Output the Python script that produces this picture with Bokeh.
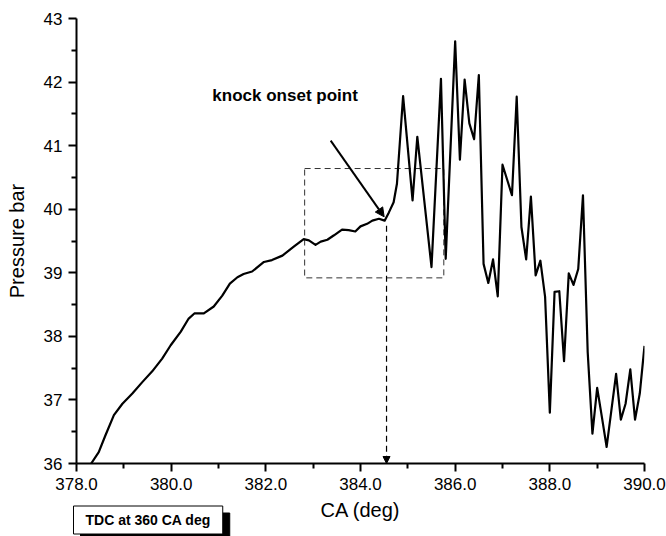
from bokeh.plotting import figure
from bokeh.models import (Range1d, FixedTicker, NumeralTickFormatter, Label, Arrow,
                          NormalHead, Title)
from bokeh.embed import file_html
from bokeh.resources import INLINE

# Crank angle (deg) and cylinder pressure (bar)
ca = [378.31, 378.47, 378.61, 378.79, 378.97, 379.18, 379.39, 379.60, 379.81, 379.99,
      380.20, 380.37, 380.49, 380.69, 380.90, 381.08, 381.24, 381.40, 381.53, 381.71,
      381.96, 382.13, 382.35, 382.59, 382.80, 382.91, 383.05, 383.16, 383.30, 383.44,
      383.61, 383.75, 383.89, 384.00, 384.14, 384.25, 384.39, 384.51, 384.60, 384.70,
      384.77, 384.90, 385.10, 385.20, 385.50, 385.70, 385.80, 386.00, 386.10, 386.20,
      386.30, 386.40, 386.50, 386.60, 386.70, 386.80, 386.90, 387.00, 387.20, 387.30,
      387.40, 387.50, 387.60, 387.70, 387.80, 387.90, 388.00, 388.10, 388.20, 388.30,
      388.40, 388.50, 388.60, 388.70, 388.80, 388.90, 389.00, 389.10, 389.20, 389.40,
      389.50, 389.60, 389.70, 389.80, 389.90, 390.00]
pressure = [36.00, 36.18, 36.44, 36.76, 36.94, 37.10, 37.28, 37.45, 37.65, 37.86,
            38.07, 38.28, 38.36, 38.36, 38.47, 38.64, 38.83, 38.93, 38.98, 39.02,
            39.17, 39.20, 39.27, 39.41, 39.53, 39.51, 39.44, 39.49, 39.52, 39.59,
            39.68, 39.67, 39.65, 39.73, 39.77, 39.82, 39.85, 39.82, 39.95, 40.11,
            40.40, 41.78, 40.14, 41.14, 39.09, 42.05, 39.22, 42.64, 40.78, 42.04,
            41.35, 41.10, 42.11, 39.14, 38.84, 39.21, 38.63, 40.70, 40.22, 41.77,
            39.72, 39.21, 40.20, 38.96, 39.19, 38.62, 36.80, 38.70, 38.71, 37.61,
            38.99, 38.81, 39.06, 40.22, 37.75, 36.47, 37.19, 36.73, 36.26, 37.41,
            36.69, 36.94, 37.48, 36.69, 37.10, 37.85]

x_major = [378, 380, 382, 384, 386, 388, 390]
x_minor = [379, 381, 383, 385, 387, 389]
y_major = [36, 37, 38, 39, 40, 41, 42, 43]
y_minor = [36.5, 37.5, 38.5, 39.5, 40.5, 41.5, 42.5]

# annotation geometry (data units)
zoom_box = dict(left=382.82, right=385.76, bottom=38.92, top=40.64)
onset_x = 384.55
onset_y_top = 39.74
arrow_start = (383.37, 41.08)
arrow_end = (384.50, 39.88)
onset_text = "knock onset point"
tdc_text = "TDC at 360 CA deg"
x_title = "CA (deg)"
y_title = "Pressure bar"

FONT = "Liberation Sans"

p = figure(width=666, height=536, output_backend="svg", toolbar_location=None,
           x_range=Range1d(378, 390), y_range=Range1d(36, 43),
           min_border_left=76, min_border_right=22, min_border_top=18,
           min_border_bottom=73)
p.outline_line_color = None
p.xgrid.visible = False
p.ygrid.visible = False
p.background_fill_color = "white"
p.border_fill_color = "white"

p.xaxis.ticker = FixedTicker(ticks=x_major, minor_ticks=x_minor)
p.yaxis.ticker = FixedTicker(ticks=y_major, minor_ticks=y_minor)
p.xaxis.formatter = NumeralTickFormatter(format="0.0")
p.yaxis.axis_label = y_title
for ax in (p.xaxis, p.yaxis):
    ax.axis_line_width = 2
    ax.axis_line_color = "black"
    ax.major_tick_out = 8
    ax.major_tick_in = 0
    ax.minor_tick_out = 5
    ax.minor_tick_in = 0
    ax.major_tick_line_width = 2
    ax.minor_tick_line_width = 2
    ax.major_tick_line_color = "black"
    ax.minor_tick_line_color = "black"
    ax.major_label_text_font = FONT
    ax.major_label_text_font_size = "17px"
    ax.major_label_text_color = "black"
    ax.axis_label_text_font = FONT
    ax.axis_label_text_font_size = "20px"
    ax.axis_label_text_font_style = "normal"
    ax.axis_label_text_color = "black"
p.xaxis.major_label_standoff = 6
p.yaxis.major_label_standoff = 6
p.yaxis.axis_label_standoff = 13

# dashed zoom box
p.quad(left=[zoom_box["left"]], right=[zoom_box["right"]],
       bottom=[zoom_box["bottom"]], top=[zoom_box["top"]],
       fill_color=None, line_color="#333333", line_width=1, line_dash="6 4")

# pressure trace
p.line(ca, pressure, line_color="black", line_width=2.2, line_join="round")

# dashed vertical arrow to axis
p.add_layout(Arrow(x_start=onset_x, y_start=onset_y_top, x_end=onset_x, y_end=36.0,
                   line_color="black", line_width=1.2, line_dash="6 4",
                   end=NormalHead(size=7, fill_color="black", line_color="black",
                                  line_width=1)))

# solid arrow to knock onset
p.add_layout(Arrow(x_start=arrow_start[0], y_start=arrow_start[1],
                   x_end=arrow_end[0], y_end=arrow_end[1],
                   line_color="black", line_width=2,
                   end=NormalHead(size=9, fill_color="black", line_color="black",
                                  line_width=1)))

p.add_layout(Label(x=380.87, y=41.79, text=onset_text, text_font=FONT,
                   text_font_size="17px", text_font_style="bold",
                   text_baseline="middle", text_align="left", text_color="black"))

# bottom panel: x-axis title, then the TDC note box with its drop shadow
x_axis_title = Title(text=x_title, align="center", vertical_align="top",
                     standoff=12, text_font=FONT, text_font_size="20px",
                     text_font_style="normal", text_color="black")
tdc_shadow = Title(text=tdc_text, align="left", vertical_align="top", offset=4,
                   standoff=-31, text_font=FONT, text_font_size="14px",
                   text_font_style="bold", text_color="black",
                   background_fill_color="black", border_line_color="black",
                   padding=(12, 6))
tdc_main = Title(text=tdc_text, align="left", vertical_align="top", offset=-3,
                 standoff=-45, text_font=FONT, text_font_size="14px",
                 text_font_style="bold", text_color="black",
                 background_fill_color="white", border_line_color="black",
                 border_line_width=1, padding=(12, 6))
p.add_layout(x_axis_title, "below")
p.add_layout(tdc_shadow, "below")
p.add_layout(tdc_main, "below")

open("out.html", "w").write(file_html(p, INLINE))
